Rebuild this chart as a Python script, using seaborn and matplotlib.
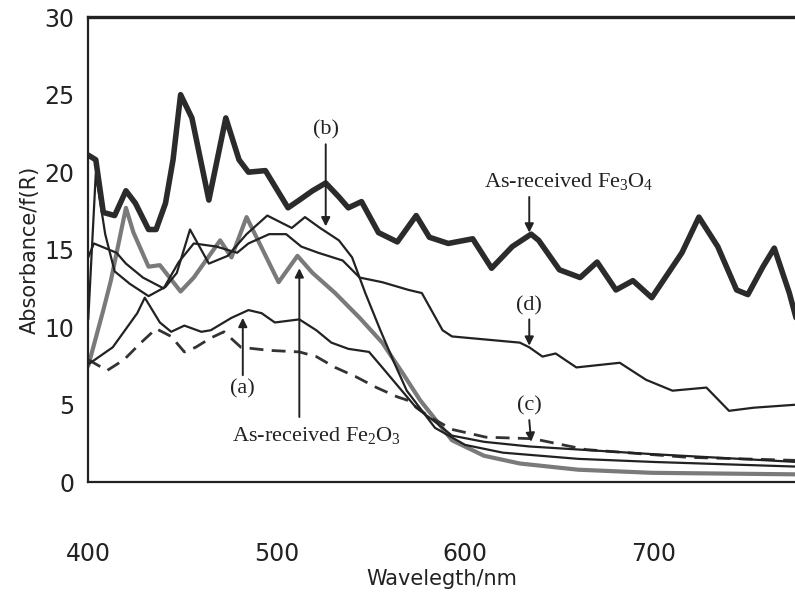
import matplotlib
matplotlib.use("Agg")
import matplotlib.pyplot as plt
import seaborn as sns
import numpy as np

sns.set_theme(style="white")
plt.rcParams['font.family'] = ['DejaVu Sans']
plt.rcParams['mathtext.fontset'] = 'custom'
plt.rcParams['mathtext.rm'] = 'Liberation Serif'
plt.rcParams['mathtext.it'] = 'Liberation Serif:italic'

# ---------------- data ----------------
fe3o4_wl = [400, 404, 408, 414, 420, 425, 432, 436, 441, 445, 449, 455, 464, 473, 480, 485, 494, 506,
            512, 519, 526, 533, 538, 545, 554, 564, 574, 581, 591, 604, 614, 625, 635, 639, 650, 661,
            670, 680, 689, 699, 715, 724, 734, 744, 750, 758, 764, 772, 776]
fe3o4_ab = [21.1, 20.8, 17.4, 17.2, 18.8, 18.0, 16.3, 16.3, 18.0, 20.8, 25.0, 23.5, 18.2, 23.5, 20.8, 20.0,
            20.1, 17.7, 18.2, 18.8, 19.3, 18.4, 17.7, 18.1, 16.1, 15.5, 17.2, 15.8, 15.4, 15.7, 13.8, 15.2,
            16.0, 15.6, 13.7, 13.2, 14.2, 12.4, 13.0, 11.9, 14.8, 17.1, 15.2, 12.4, 12.1, 13.9, 15.1, 12.2, 10.4]

d_wl = [400, 403, 415, 420, 429, 440, 448, 456, 468, 479, 485, 496, 505, 513, 522, 535, 544, 556, 570,
        577, 588, 593, 629, 634, 641, 648, 659, 682, 696, 710, 728, 740, 753, 776]
d_ab = [14.5, 15.4, 14.8, 14.1, 13.2, 12.5, 14.2, 15.4, 15.2, 14.8, 15.4, 16.0, 16.0, 15.2, 14.8, 14.3,
        13.2, 12.9, 12.4, 12.2, 9.8, 9.4, 9.0, 8.7, 8.1, 8.3, 7.4, 7.7, 6.6, 5.9, 6.1, 4.6, 4.8, 5.0]

b_wl = [400, 404, 409, 414, 422, 432, 441, 447, 454, 464, 474, 484, 495, 508, 515, 523, 533, 540, 547,
        555, 562, 569, 584, 600, 620, 660, 700, 776]
b_ab = [10.5, 19.9, 16.0, 13.6, 12.8, 12.0, 12.6, 13.5, 16.3, 14.1, 14.6, 16.0, 17.2, 16.4, 17.1, 16.4,
        15.6, 14.5, 12.2, 9.8, 7.8, 5.9, 3.5, 2.4, 1.9, 1.5, 1.3, 1.0]

a_wl = [400, 413, 426, 430, 438, 444, 451, 460, 465, 476, 485, 492, 499, 512, 521, 529, 538, 549, 556,
        565, 574, 585, 593, 610, 634, 700, 776]
a_ab = [7.6, 8.7, 10.9, 11.9, 10.3, 9.7, 10.1, 9.7, 9.8, 10.6, 11.1, 10.9, 10.3, 10.5, 9.8, 9.0, 8.6,
        8.4, 7.4, 6.1, 4.8, 3.8, 3.0, 2.6, 2.3, 1.8, 1.3]

c_wl = [400, 410, 419, 428, 436, 444, 451, 457, 465, 472, 481, 496, 512, 521, 531, 542, 553, 564, 569,
        580, 593, 611, 636, 664, 718, 776]
c_ab = [7.9, 7.2, 7.9, 9.0, 9.9, 9.4, 8.4, 8.7, 9.3, 9.7, 8.7, 8.5, 8.4, 8.1, 7.4, 6.8, 6.1, 5.5, 5.3,
        4.3, 3.4, 2.9, 2.8, 2.1, 1.6, 1.4]

fe2o3_wl = [400, 408, 412, 420, 424, 432, 438, 449, 456, 470, 476, 484, 501, 511, 519, 531, 544, 556,
            567, 576, 593, 610, 629, 660, 699, 776]
fe2o3_ab = [7.5, 11.1, 13.0, 17.7, 16.1, 13.9, 14.0, 12.3, 13.2, 15.6, 14.5, 17.1, 12.9, 14.6, 13.5,
            12.2, 10.6, 9.0, 7.0, 5.3, 2.7, 1.7, 1.2, 0.8, 0.6, 0.5]

x_ticks = [400, 500, 600, 700]
y_ticks = [0, 5, 10, 15, 20, 25, 30]

# ---------------- figure ----------------
fig = plt.figure(figsize=(7.95, 5.93), dpi=100)
ax = fig.add_axes([0.111, 0.187, 0.889, 0.784])

ink = '#222222'
sns.lineplot(x=fe2o3_wl, y=fe2o3_ab, ax=ax, color="#7a7a7a", linewidth=3.0, estimator=None, sort=False)
sns.lineplot(x=c_wl, y=c_ab, ax=ax, color="#333333", linewidth=2.0, linestyle=(0, (5, 3)),
             estimator=None, sort=False)
sns.lineplot(x=a_wl, y=a_ab, ax=ax, color=ink, linewidth=1.6, estimator=None, sort=False)
sns.lineplot(x=b_wl, y=b_ab, ax=ax, color=ink, linewidth=1.6, estimator=None, sort=False)
sns.lineplot(x=d_wl, y=d_ab, ax=ax, color=ink, linewidth=1.6, estimator=None, sort=False)
sns.lineplot(x=fe3o4_wl, y=fe3o4_ab, ax=ax, color="#2b2b2b", linewidth=4.0, estimator=None, sort=False)

ax.set_xlim(400, 775)
ax.set_ylim(0, 30)
ax.set_xticks(x_ticks)
ax.set_yticks(y_ticks)
ax.tick_params(axis='both', direction='in', length=4, width=1, colors=ink, labelsize=17)
ax.tick_params(axis='y', pad=10)
ax.tick_params(axis='x', pad=43)
for lab in ax.get_xticklabels() + ax.get_yticklabels():
    lab.set_color(ink)

for side in ['left', 'bottom', 'top']:
    ax.spines[side].set_visible(True)
    ax.spines[side].set_color(ink)
ax.spines['left'].set_linewidth(1.6)
ax.spines['bottom'].set_linewidth(1.6)
ax.spines['top'].set_linewidth(2.4)
ax.spines['right'].set_visible(False)

ax.set_xlabel("Wavelegth/nm", fontsize=15, color=ink, labelpad=2)
ax.set_ylabel("Absorbance/f(R)", fontsize=15, color=ink, labelpad=3)

serif = ['Liberation Serif', 'DejaVu Serif']
arrow = dict(arrowstyle='-|>', color=ink, lw=1.4, mutation_scale=13, shrinkA=0, shrinkB=0)
fs = 16

def label(x, y, text):
    ax.text(x, y, text, family=serif, fontsize=fs, color=ink, ha='center', va='center')

def arrow_to(tip, tail):
    ax.annotate("", xy=tip, xytext=tail, arrowprops=arrow)

label(526, 22.7, "(b)")
arrow_to((526, 16.5), (526, 21.8))
label(655, 19.4, r"As-received Fe$_3$O$_4$")
arrow_to((634, 16.1), (634, 18.4))
label(634, 11.4, "(d)")
arrow_to((634, 8.8), (634, 10.5))
label(634, 4.9, "(c)")
arrow_to((635, 2.6), (634, 4.0))
label(482, 6.0, "(a)")
arrow_to((482, 10.6), (482, 6.9))
label(521, 3.0, r"As-received Fe$_2$O$_3$")
arrow_to((512, 13.8), (512, 4.2))

fig.savefig("out.png", dpi=100)
